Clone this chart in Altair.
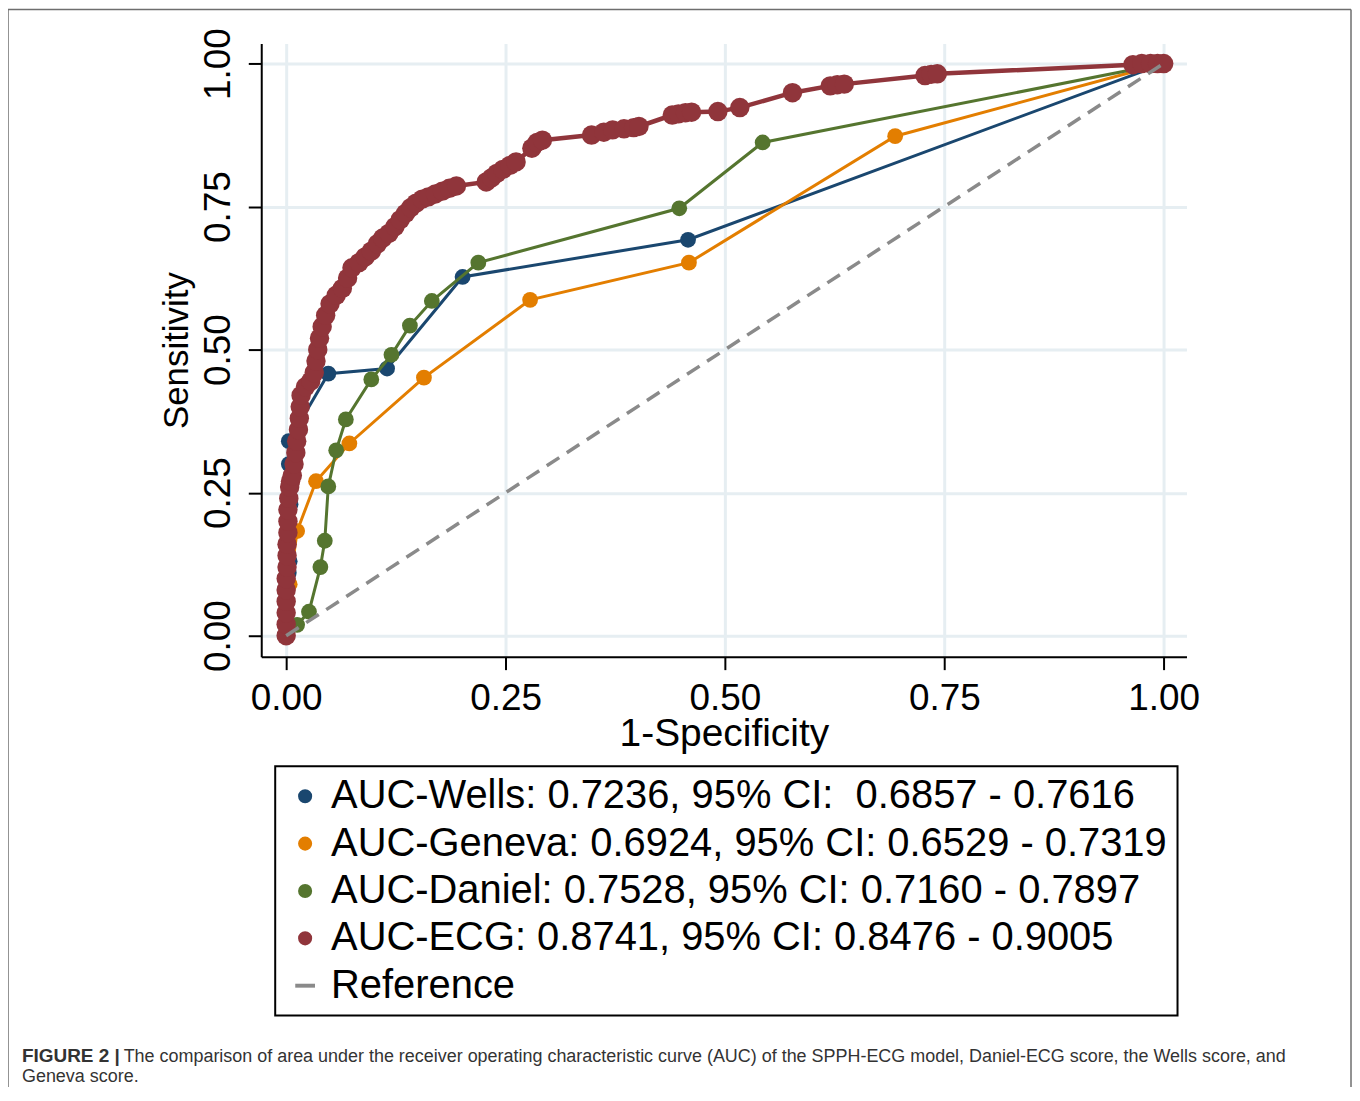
import altair as alt
import pandas as pd

# ---------------- data ----------------
wells_x = [0.0, 0.002, 0.003, 0.004, 0.005, 0.003, 0.003, 0.048, 0.115, 0.201, 0.458, 1.0]
wells_y = [0.0, 0.02, 0.11, 0.13, 0.23, 0.30, 0.34, 0.458, 0.467, 0.627, 0.692, 1.0]

geneva_x = [0.0, 0.0, 0.004, 0.0125, 0.034, 0.072, 0.157, 0.278, 0.459, 0.694, 1.0]
geneva_y = [0.0, 0.06, 0.09, 0.183, 0.27, 0.336, 0.451, 0.587, 0.652, 0.873, 1.0]

daniel_x = [0.0, 0.0125, 0.026, 0.039, 0.044, 0.048, 0.057, 0.068, 0.097, 0.120,
            0.141, 0.166, 0.219, 0.448, 0.543, 1.0]
daniel_y = [0.0, 0.019, 0.042, 0.12, 0.166, 0.261, 0.324, 0.378, 0.448, 0.491,
            0.542, 0.585, 0.652, 0.747, 0.862, 1.0]

ecg_x = [0.0, 0.0, 0.0, 0.0, 0.0, 0.0, 0.001, 0.001, 0.001, 0.002, 0.002, 0.002,
         0.003, 0.004, 0.005, 0.007, 0.009,
         0.011, 0.012, 0.014, 0.015, 0.016, 0.017, 0.022, 0.028, 0.032, 0.034, 0.036,
         0.038, 0.041, 0.045, 0.050, 0.057, 0.064, 0.070, 0.075, 0.083, 0.090, 0.097,
         0.104, 0.110, 0.117, 0.124, 0.130, 0.136, 0.142, 0.148, 0.155, 0.162, 0.170,
         0.178, 0.186, 0.194, 0.228, 0.234, 0.240, 0.247, 0.255, 0.262, 0.280, 0.286,
         0.292, 0.348, 0.362, 0.372, 0.385, 0.396, 0.402, 0.440, 0.447, 0.455, 0.462,
         0.492, 0.517, 0.577, 0.620, 0.628, 0.636, 0.728, 0.735, 0.742, 0.965, 0.975,
         0.985, 0.993, 1.0]
ecg_y = [0.0, 0.02, 0.04, 0.06, 0.08, 0.10, 0.12, 0.14, 0.16, 0.18, 0.20, 0.22,
         0.24, 0.26, 0.27, 0.28, 0.30,
         0.32, 0.34, 0.36, 0.38, 0.40, 0.42, 0.435, 0.445, 0.46, 0.48, 0.50,
         0.52, 0.54, 0.56, 0.58, 0.595, 0.607, 0.625, 0.643, 0.652, 0.662, 0.672,
         0.685, 0.695, 0.703, 0.715, 0.727, 0.738, 0.748, 0.756, 0.763, 0.767, 0.772,
         0.777, 0.782, 0.786, 0.793, 0.800, 0.808, 0.815, 0.822, 0.828, 0.852, 0.862,
         0.866, 0.875, 0.880, 0.884, 0.886, 0.888, 0.890, 0.910, 0.912, 0.914, 0.915,
         0.916, 0.923, 0.949, 0.961, 0.963, 0.964, 0.979, 0.981, 0.982, 0.998, 1.0,
         1.0, 1.0, 1.0]

ref_x = [0.0, 1.0]
ref_y = [0.0, 1.0]

legend_labels = [
    "AUC-Wells: 0.7236, 95% CI: \u00a00.6857 - 0.7616",
    "AUC-Geneva: 0.6924, 95% CI: 0.6529 - 0.7319",
    "AUC-Daniel: 0.7528, 95% CI: 0.7160 - 0.7897",
    "AUC-ECG: 0.8741, 95% CI: 0.8476 - 0.9005",
    "Reference",
]
tick_values = [0.0, 0.25, 0.5, 0.75, 1.0]
caption_bold = "FIGURE 2 |"
caption_line1 = ("The comparison of area under the receiver operating characteristic curve "
                 "(AUC) of the SPPH-ECG model, Daniel-ECG score, the Wells score, and")
caption_line2 = "Geneva score."

# ---------------- styling ----------------
C_WELLS, C_GENEVA, C_DANIEL, C_ECG, C_REF = "#1a476f", "#e37e00", "#55752f", "#90353b", "#8a8a8a"
FONT = "Liberation Sans"

xscale = alt.Scale(domain=[-0.0284, 1.026], nice=False, zero=False)
yscale = alt.Scale(domain=[-0.0366, 1.035], nice=False, zero=False)
xaxis = alt.Axis(values=tick_values, format=".2f", title="1-Specificity",
                 titleBaseline="alphabetic", titleY=89, titleFontSize=39,
                 labelPadding=11)
yaxis = alt.Axis(values=tick_values, format=".2f", title="Sensitivity",
                 labelAngle=270, labelAlign="center", labelBaseline="alphabetic",
                 labelPadding=19, titleAngle=270, titleAlign="center",
                 titleBaseline="alphabetic", titleX=-74, titleY=307.5, titleFontSize=35)


def series_layer(xs, ys, color, size, sw):
    df = pd.DataFrame({"x": xs, "y": ys, "o": list(range(len(xs)))})
    base = alt.Chart(df).encode(
        x=alt.X("x:Q", scale=xscale, axis=xaxis),
        y=alt.Y("y:Q", scale=yscale, axis=yaxis),
        order=alt.Order("o:Q"),
    )
    line = base.mark_line(color=color, strokeWidth=sw)
    pts = base.mark_point(filled=True, color=color, size=size, opacity=1, strokeWidth=0)
    return [line, pts]


layers = []
layers += series_layer(wells_x, wells_y, C_WELLS, 250, 3)
layers += series_layer(geneva_x, geneva_y, C_GENEVA, 250, 3)
layers += series_layer(daniel_x, daniel_y, C_DANIEL, 250, 3)
layers += series_layer(ecg_x, ecg_y, C_ECG, 380, 4.5)

ref_df = pd.DataFrame({"x": ref_x, "y": ref_y})
layers.append(
    alt.Chart(ref_df).mark_line(color=C_REF, strokeWidth=3.5, strokeDash=[15, 9]).encode(
        x=alt.X("x:Q", scale=xscale, axis=xaxis),
        y=alt.Y("y:Q", scale=yscale, axis=yaxis),
    )
)

# legend layer (no visible marks: coordinates are missing, only the legend is produced)
leg_df = pd.DataFrame({"series": legend_labels,
                       "x": [float("nan")] * 5, "y": [float("nan")] * 5})
leg = alt.Legend(title=None, orient="none", legendX=14, legendY=725,
                 labelFont=FONT, labelFontSize=40, labelColor="black", labelLimit=3000,
                 symbolSize=200, rowPadding=7.5, padding=10, strokeColor="black",
                 labelOffset=6, symbolStrokeWidth=0)
ref_shape = "M-1.4,-0.28H1.4V0.28H-1.4Z"
layers.append(
    alt.Chart(leg_df).mark_point(filled=True, opacity=1).encode(
        x=alt.X("x:Q", scale=xscale, axis=xaxis),
        y=alt.Y("y:Q", scale=yscale, axis=yaxis),
        color=alt.Color("series:N", sort=legend_labels,
                        scale=alt.Scale(domain=legend_labels,
                                        range=[C_WELLS, C_GENEVA, C_DANIEL, C_ECG, C_REF]),
                        legend=leg),
        shape=alt.Shape("series:N", sort=legend_labels,
                        scale=alt.Scale(domain=legend_labels,
                                        range=["circle", "circle", "circle", "circle", ref_shape]),
                        legend=leg),
    )
)

# figure frame and caption (decoration, in pixel space)
one = pd.DataFrame({"a": [0]})
FRAME = "#6e6e6e"
layers.append(alt.Chart(one).mark_rule(color=FRAME, strokeWidth=1.5).encode(
    x=alt.value(-254), x2=alt.value(1093), y=alt.value(-34)))
layers.append(alt.Chart(one).mark_rule(color=FRAME, strokeWidth=1.5).encode(
    x=alt.value(-254), y=alt.value(-34), y2=alt.value(1060)))
layers.append(alt.Chart(one).mark_rule(color=FRAME, strokeWidth=1.5).encode(
    x=alt.value(1093), y=alt.value(-34), y2=alt.value(1060)))
layers.append(alt.Chart(one).mark_text(align="left", baseline="alphabetic", font=FONT,
                                       fontSize=19, fontWeight="bold", color="#333333").encode(
    x=alt.value(-240), y=alt.value(1022), text=alt.value(caption_bold)))
layers.append(alt.Chart(one).mark_text(align="left", baseline="alphabetic", font=FONT,
                                       fontSize=18, color="#333333").encode(
    x=alt.value(-138), y=alt.value(1022), text=alt.value(caption_line1)))
layers.append(alt.Chart(one).mark_text(align="left", baseline="alphabetic", font=FONT,
                                       fontSize=18, color="#333333").encode(
    x=alt.value(-240), y=alt.value(1042), text=alt.value(caption_line2)))

chart = alt.layer(*layers).properties(
    width=928, height=615,
    autosize=alt.AutoSizeParams(type="none"),
    padding={"left": 254, "top": 34, "right": 166, "bottom": 430},
    background="white",
).configure_view(stroke=None).configure_axis(
    labelFont=FONT, titleFont=FONT, labelFontSize=37, labelColor="black",
    titleColor="black", titleFontWeight="normal",
    domainColor="black", domainWidth=2, tickColor="black", tickWidth=2, tickSize=13,
    gridColor="#e6eef2", gridWidth=3,
).configure_legend(strokeWidth=2)

chart.save("out.html", embed_options={"renderer": "svg", "actions": False})
